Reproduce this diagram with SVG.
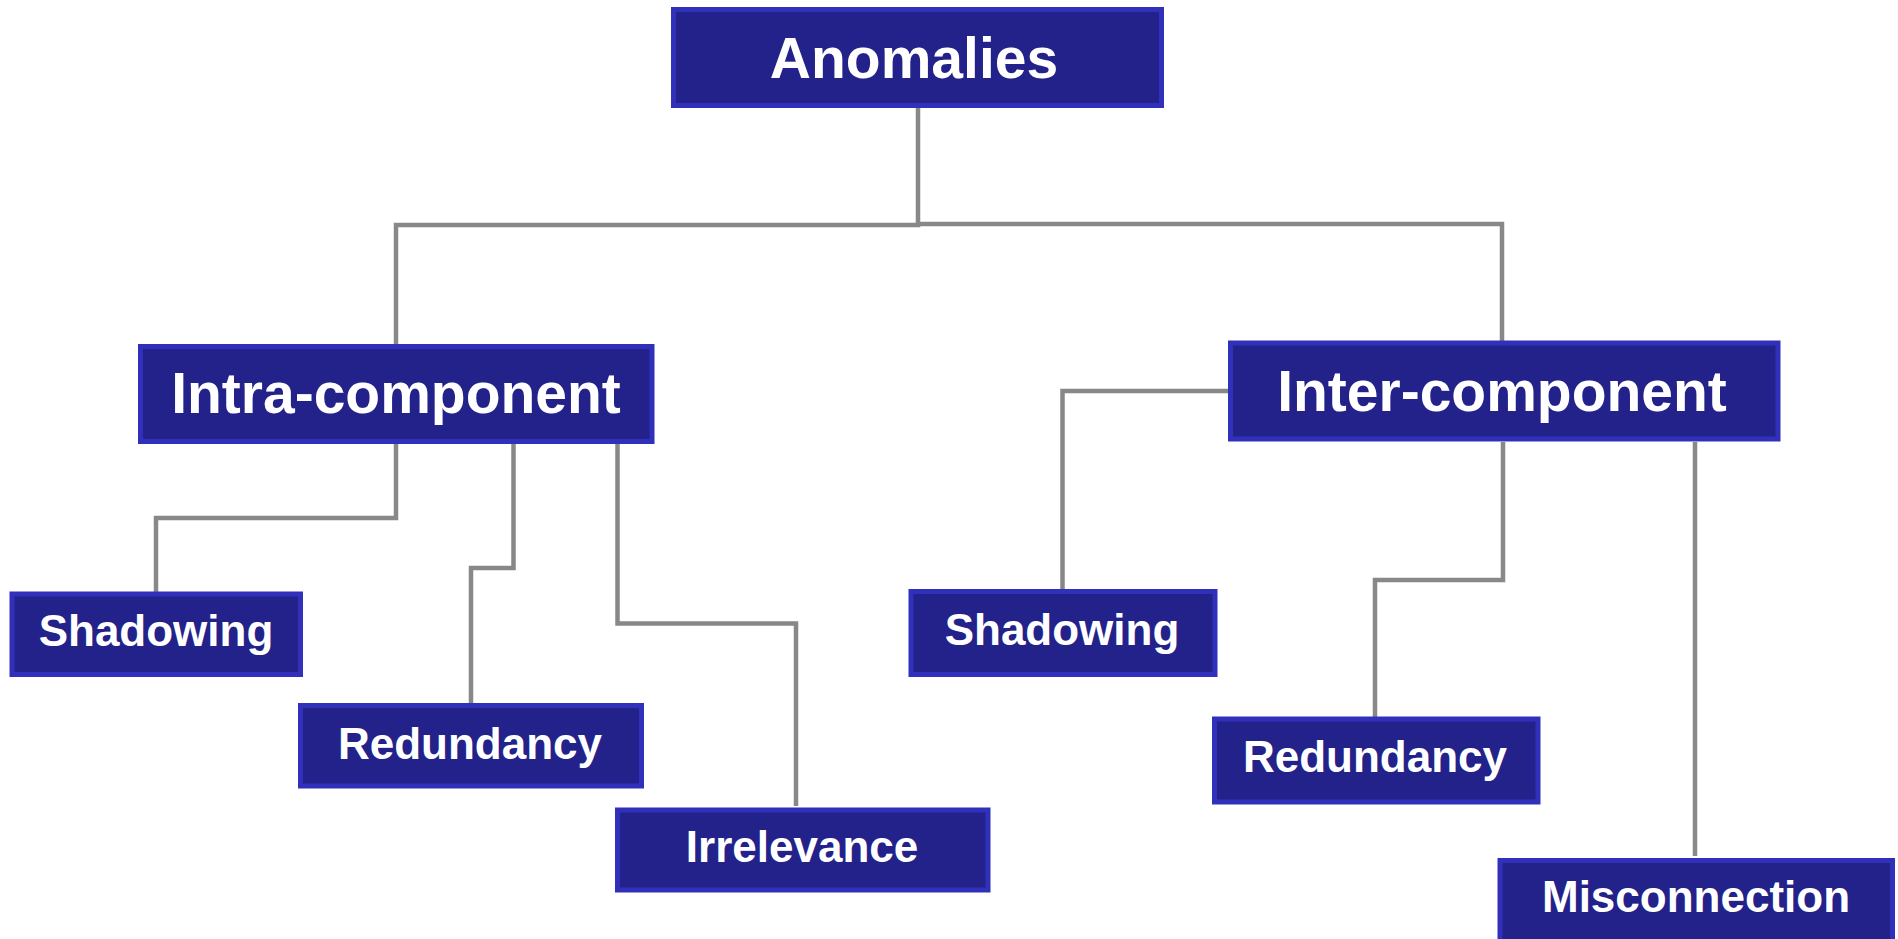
<svg xmlns="http://www.w3.org/2000/svg" width="1898" height="939" viewBox="0 0 1898 939">
<style>
.box{fill:#22228a;stroke:#3030bb;stroke-width:5}
.t{font-family:"Liberation Sans",Arial,sans-serif;font-weight:bold;fill:#ffffff;text-anchor:middle}
.big{font-size:57px}
.sm{font-size:44px}
.c{fill:none;stroke:#888888;stroke-width:4.5}
</style>
<rect width="1898" height="939" fill="#ffffff"/>
<g id="connectors">
<path class="c" d="M918 108 V225 H396 V344"/>
<path class="c" d="M918 224 H1502 V341"/>
<path class="c" d="M396 444 V518 H156 V592"/>
<path class="c" d="M513.5 444 V568 H471 V703"/>
<path class="c" d="M617.5 444 V623.5 H796 V806"/>
<path class="c" d="M1228 391 H1062.5 V589"/>
<path class="c" d="M1503 442 V580 H1375 V717"/>
<path class="c" d="M1695 442 V856"/>
</g>
<g id="anomalies">
<rect class="box" x="673.5" y="9.5" width="488" height="96"/>
<text class="t big" x="914" y="78">Anomalies</text>
</g>
<g id="intra">
<rect class="box" x="140.5" y="346.5" width="511.5" height="95"/>
<text class="t big" x="396" y="413">Intra-component</text>
</g>
<g id="inter">
<rect class="box" x="1230.5" y="343" width="547.5" height="96"/>
<text class="t big" x="1502" y="411">Inter-component</text>
</g>
<g id="shadowing-intra">
<rect class="box" x="12" y="594" width="288.5" height="80.5"/>
<text class="t sm" x="156" y="646">Shadowing</text>
</g>
<g id="redundancy-intra">
<rect class="box" x="300.5" y="705.5" width="341" height="80.5"/>
<text class="t sm" x="470" y="759">Redundancy</text>
</g>
<g id="irrelevance">
<rect class="box" x="617.5" y="810" width="370.5" height="80"/>
<text class="t sm" x="802" y="862">Irrelevance</text>
</g>
<g id="shadowing-inter">
<rect class="box" x="911" y="591.5" width="304" height="83"/>
<text class="t sm" x="1062" y="645">Shadowing</text>
</g>
<g id="redundancy-inter">
<rect class="box" x="1214.5" y="719" width="323.5" height="83"/>
<text class="t sm" x="1375" y="772">Redundancy</text>
</g>
<g id="misconnection">
<rect class="box" x="1500" y="860.5" width="392.5" height="90"/>
<text class="t sm" x="1696" y="912">Misconnection</text>
</g>
</svg>
